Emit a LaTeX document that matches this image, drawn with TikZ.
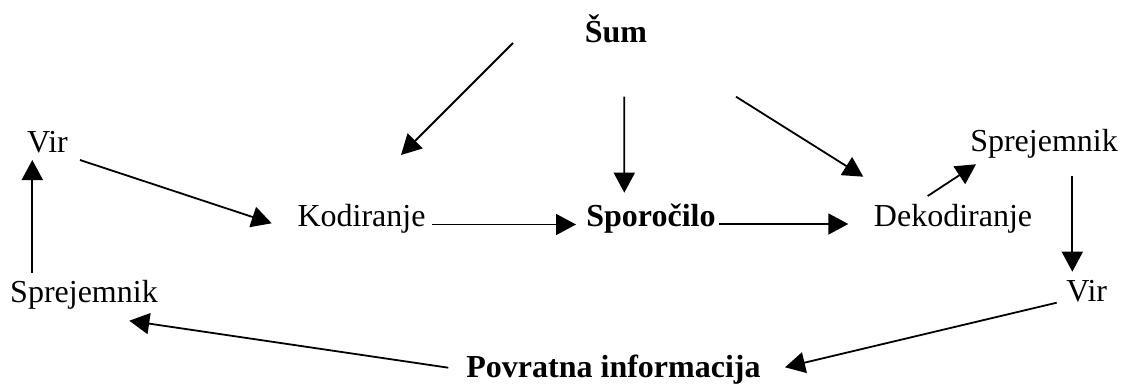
\documentclass[tikz,border=0pt]{standalone}
\usepackage{fontspec}
\setmainfont{Liberation Serif}
\usetikzlibrary{arrows.meta}
\begin{document}
\begin{tikzpicture}[x=0.5pt,y=-0.5pt,
  lbl/.style={anchor=base,inner sep=0pt,font=\fontsize{16}{19}\selectfont},
  blbl/.style={lbl,font=\fontsize{16}{19}\selectfont\bfseries},
  arr/.style={line width=0.9pt,-{Triangle[length=10pt,width=10.5pt]}}]
\path[use as bounding box] (0,0) rectangle (1122,385);

% labels (placed at their baselines)
\node[blbl] (sum)   at (616,43)    {Šum};
\node[lbl]  (virL)  at (47.5,152.3) {Vir};
\node[lbl]  (sprL)  at (84,302.7)  {Sprejemnik};
\node[lbl]  (kod)   at (361.5,226.7) {Kodiranje};
\node[blbl] (spor)  at (651,226.7) {Sporočilo};
\node[lbl]  (dek)   at (953,226.7) {Dekodiranje};
\node[lbl]  (sprR)  at (1044,151.7) {Sprejemnik};
\node[lbl]  (virR)  at (1086.7,301.7) {Vir};
\node[blbl] (pov)   at (613.5,377) {Povratna informacija};

% noise acting on the channel
\draw[arr] ([shift={(-103,0)}]sum.base) -- ([shift={(39.5,-71.7)}]kod.base);
\draw[arr] ([shift={(8.3,53.7)}]sum.base) -- ([shift={(-26.7,-34)}]spor.base);
\draw[arr] ([shift={(120,53.7)}]sum.base) -- ([shift={(-89.7,-50)}]dek.base);

% main flow
\draw[arr] ([shift={(32.5,7.7)}]virL.base) -- ([shift={(-89.8,-3.4)}]kod.base);
\draw[arr] ([shift={(70.2,-2.2)}]kod.base) -- ([shift={(-75,-2.2)}]spor.base);
\draw[arr] ([shift={(68.3,-2.7)}]spor.base) -- ([shift={(-104.7,-2.7)}]dek.base);
\draw[arr] ([shift={(-25.3,-30.7)}]dek.base) -- ([shift={(-68,12.6)}]sprR.base);
\draw[arr] ([shift={(28.3,24)}]sprR.base) -- ([shift={(-14.4,-30)}]virR.base);

% feedback loop
\draw[arr] ([shift={(-30,1)}]virR.base) -- ([shift={(171.5,-9.7)}]pov.base);
\draw[arr] ([shift={(-165.2,-9.3)}]pov.base) -- ([shift={(45.3,18)}]sprL.base);
\draw[arr] ([shift={(-51.7,-30)}]sprL.base) -- ([shift={(-15.2,7.7)}]virL.base);
\end{tikzpicture}
\end{document}
